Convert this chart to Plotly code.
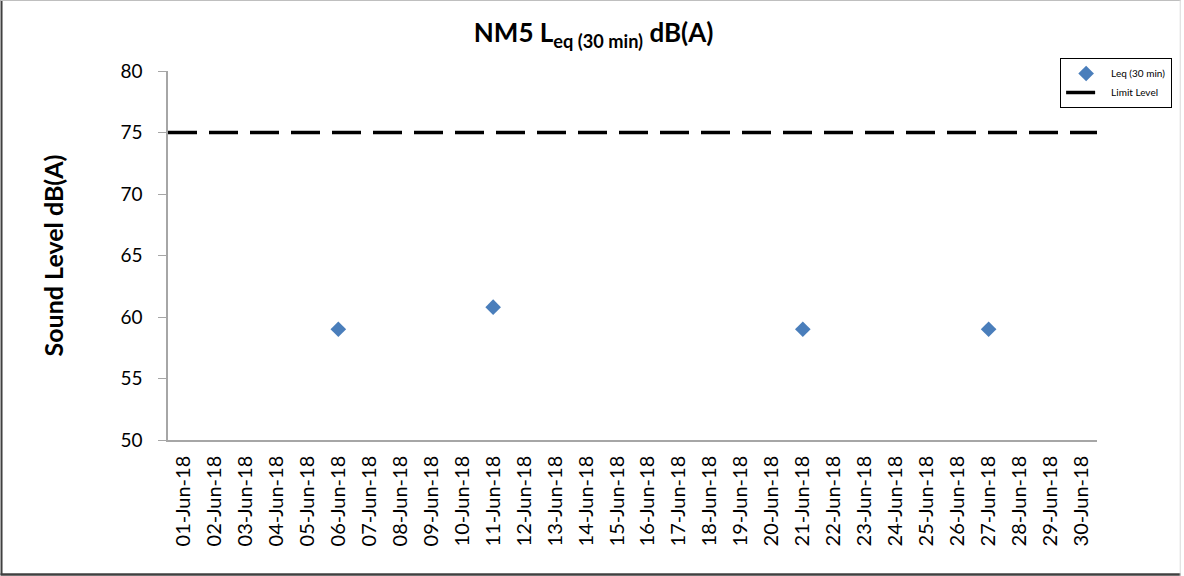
import plotly.graph_objects as go

dates = [f"{d:02d}-Jun-18" for d in range(1, 31)]
leq_dates = ["06-Jun-18", "11-Jun-18", "21-Jun-18", "27-Jun-18"]
leq_values = [59.0, 60.8, 59.0, 59.0]
limit_level = 75
y_ticks = [50, 55, 60, 65, 70, 75, 80]

idx = {d: i for i, d in enumerate(dates)}
x_leq = [idx[d] for d in leq_dates]
x_lo, x_hi = -0.5, len(dates) - 0.5

W, H = 1184, 576
L, R, T, B = 168, 84, 71, 136
PW, PH = W - L - R, H - T - B

def px_x(p):
    return (p - L) / PW

def px_y(p):
    return (H - B - p) / PH

fig = go.Figure()
fig.add_trace(go.Scatter(
    x=x_leq, y=leq_values, mode="markers", name="Leq (30 min)",
    marker=dict(symbol="diamond", size=12, color="#4a7ebb"),
))
fig.add_trace(go.Scatter(
    x=[x_lo, x_hi], y=[limit_level, limit_level], mode="lines", name="Limit Level",
    line=dict(color="black", width=3.5, dash="29px,12px"),
))

fig.update_layout(
    width=W, height=H,
    margin=dict(l=L, r=R, t=T, b=B),
    paper_bgcolor="white", plot_bgcolor="white",
    font=dict(family="Lato, Open Sans, sans-serif", color="black"),
    title=dict(text="<b>NM5 L<sub>eq (30 min)</sub> dB(A)</b>", x=px_x(595), xanchor="center",
               xref="paper", y=1 - 33 / H, yanchor="middle", font=dict(size=26)),
    showlegend=True,
    legend=dict(x=px_x(1063), y=px_y(58), xanchor="left", yanchor="top",
                bordercolor="black", borderwidth=1, bgcolor="white",
                font=dict(size=10, family="Lato, sans-serif"), itemwidth=40,
                tracegroupgap=2),
    xaxis=dict(range=[x_lo, x_hi], tickmode="array", tickvals=list(range(len(dates))),
               ticktext=dates, tickangle=-90, ticks="", showgrid=False, zeroline=False,
               showline=True, linecolor="#a6a6a6", linewidth=1.5, ticklabelstandoff=6,
               tickfont=dict(size=20, family="Lato, sans-serif")),
    yaxis=dict(range=[50, 80], tickvals=y_ticks, ticks="outside", ticklen=8,
               tickcolor="#a6a6a6", showgrid=False, zeroline=False,
               showline=True, linecolor="#a6a6a6", linewidth=1.5, ticklabelstandoff=12,
               tickfont=dict(size=19, family="Lato, sans-serif"),
               title=dict(text="<b>Sound Level dB(A)</b>", font=dict(size=25), standoff=50)),
    shapes=[
        dict(type="line", xref="paper", yref="paper", x0=px_x(1), x1=px_x(1),
             y0=px_y(0), y1=px_y(575), line=dict(color="#404040", width=2)),
        dict(type="line", xref="paper", yref="paper", x0=px_x(0), x1=px_x(1184),
             y0=px_y(574.5), y1=px_y(574.5), line=dict(color="#404040", width=2.5)),
        dict(type="line", xref="paper", yref="paper", x0=px_x(0), x1=px_x(1184),
             y0=px_y(0.5), y1=px_y(0.5), line=dict(color="#bfbfbf", width=1)),
        dict(type="line", xref="paper", yref="paper", x0=px_x(1183.5), x1=px_x(1183.5),
             y0=px_y(0), y1=px_y(576), line=dict(color="#d9d9d9", width=1)),
    ],
)

fig.write_html("out.html", config={"displayModeBar": False},
               post_script="document.body.style.margin='0px';document.body.style.padding='0px';")
